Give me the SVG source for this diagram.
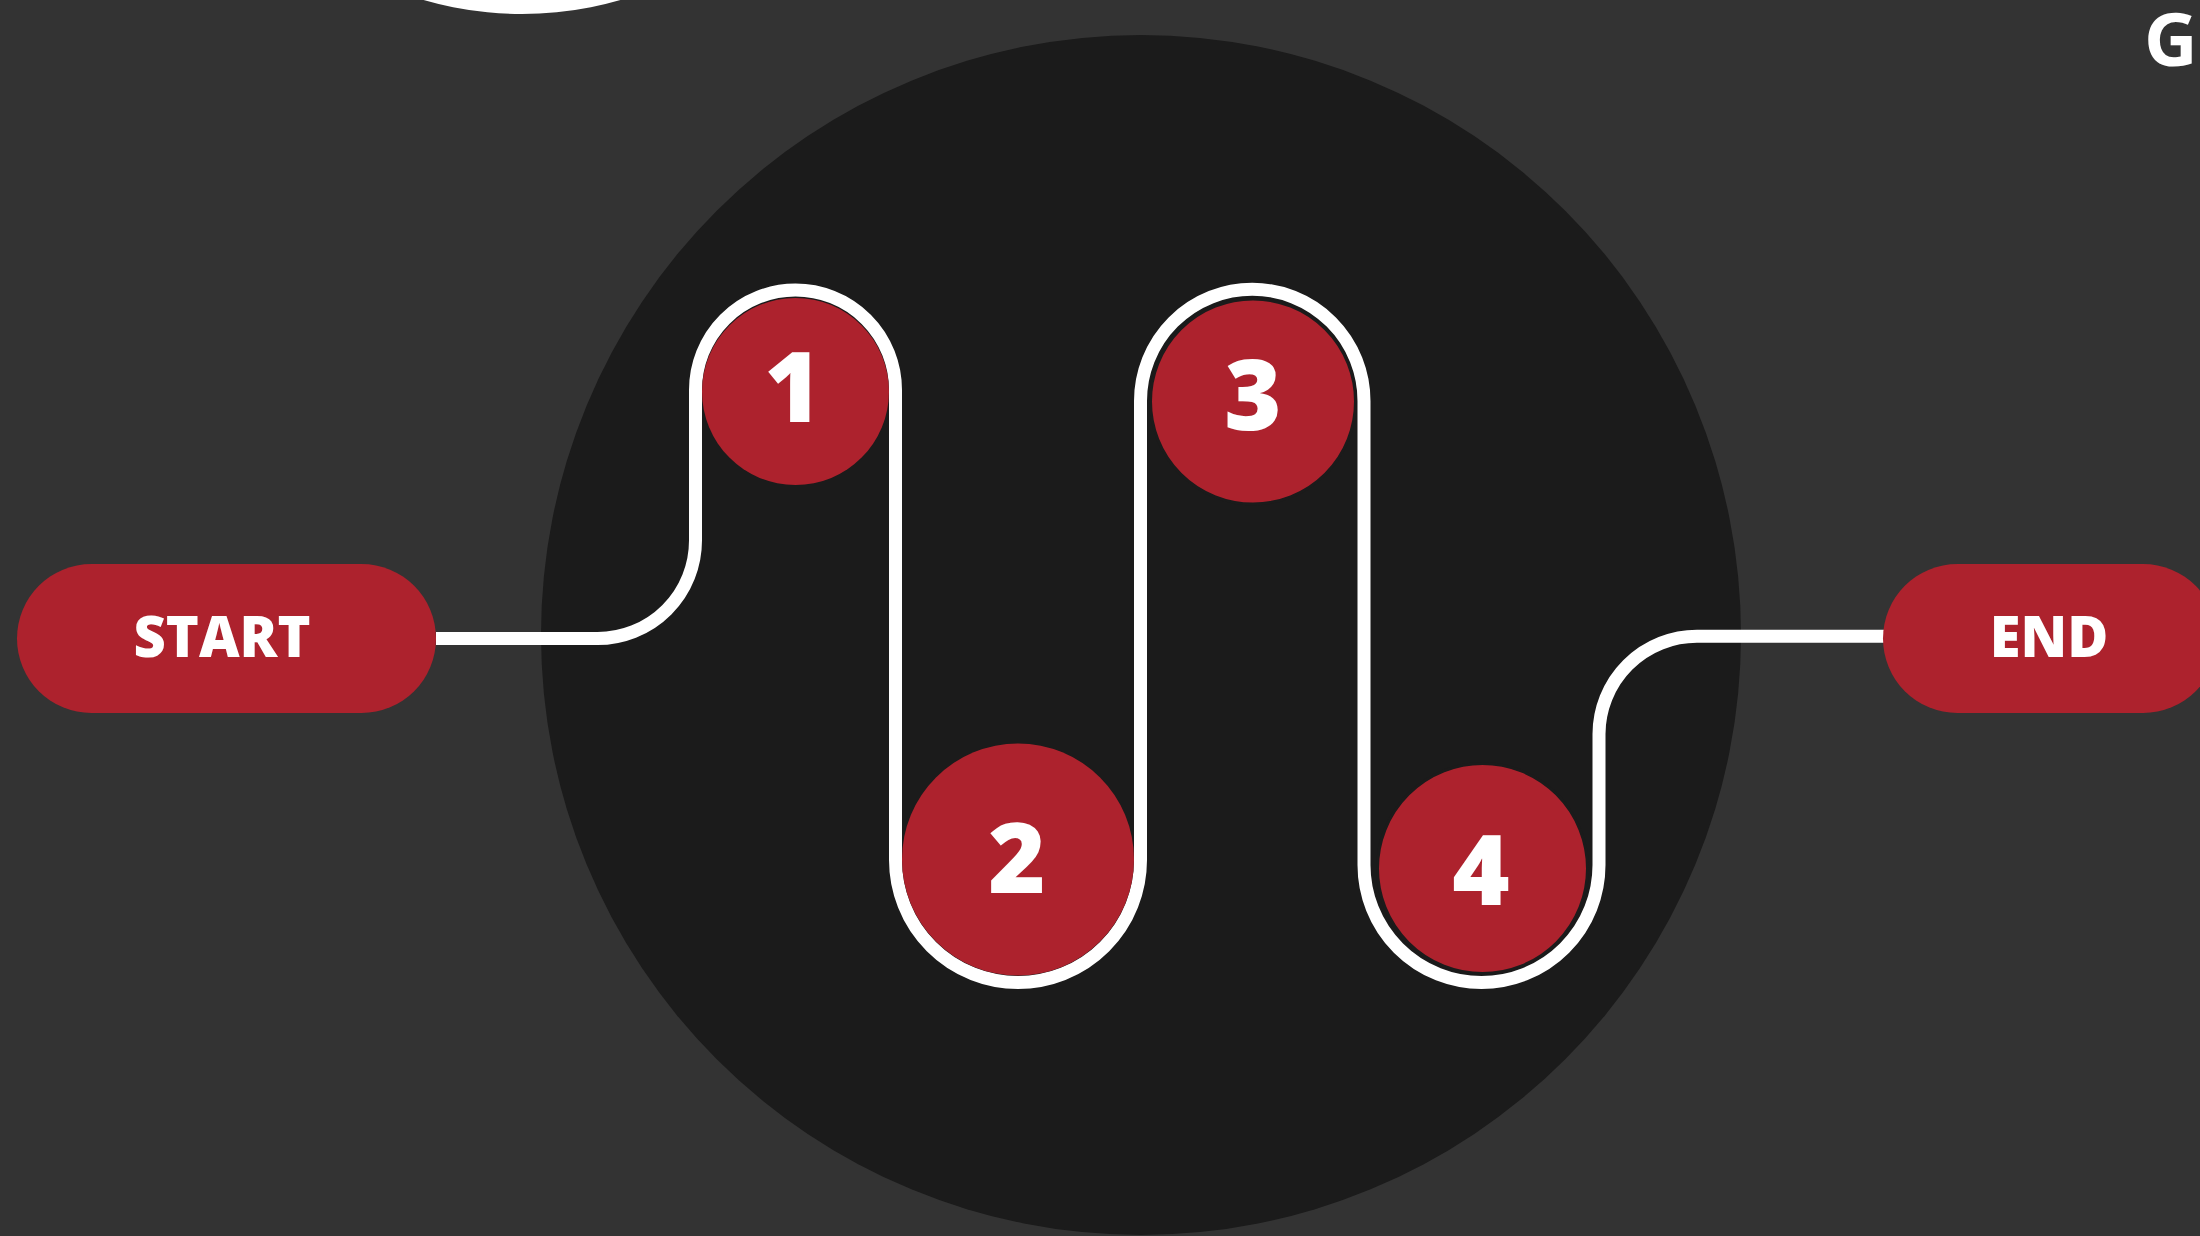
<svg xmlns="http://www.w3.org/2000/svg" width="2200" height="1236" viewBox="0 0 2200 1236">
<style>
.pill{fill:#ad222d}
.step{fill:#ad222d}
.lbl{font-family:"Open Sans","Liberation Sans",sans-serif;font-weight:800;fill:#ffffff;text-anchor:middle}
.pl{font-size:56px}
.num{font-size:98px}
.conn{fill:none;stroke:#ffffff;stroke-width:13}
</style>
<rect x="0" y="0" width="2200" height="1236" fill="#333333"/>
<circle cx="522" cy="-339" r="353" fill="#ffffff"/>
<circle cx="1141" cy="635" r="600" fill="#1b1b1b"/>
<text x="2144" y="66" font-family="'Open Sans','Liberation Sans',sans-serif" font-weight="700" font-size="74" fill="#ffffff">G</text>
<g id="connectors">
<path class="conn" d="M 436 638.5 H 597.5 A 98 98 0 0 0 695.5 540.5 V 390 A 100 100 0 0 1 895.5 390 V 860 A 122.5 122.5 0 0 0 1140.5 860 V 401 A 111.75 111.75 0 0 1 1364 401 V 865 A 117.5 117.5 0 0 0 1599 865 V 734 A 98 98 0 0 1 1697 636.3 H 1890"/>
</g>
<g id="start">
<rect class="pill" x="17" y="564" width="419" height="149" rx="74.5"/>
<text class="lbl pl" x="222" y="657">START</text>
</g>
<g id="step1">
<circle class="step" cx="795.5" cy="391.5" r="93.5"/>
<text class="lbl num" x="793" y="422">1</text>
</g>
<g id="step2">
<circle class="step" cx="1018" cy="859.5" r="116"/>
<text class="lbl num" x="1017" y="893">2</text>
</g>
<g id="step3">
<circle class="step" cx="1253" cy="401.5" r="102.5" stroke="#1b1b1b" stroke-width="3"/>
<text class="lbl num" x="1253" y="430">3</text>
</g>
<g id="step4">
<circle class="step" cx="1482.5" cy="868.5" r="105" stroke="#1b1b1b" stroke-width="3"/>
<text class="lbl num" x="1481" y="905">4</text>
</g>
<g id="end">
<rect class="pill" x="1883" y="564" width="334.5" height="149" rx="74.5"/>
<text class="lbl pl" x="2049" y="657">END</text>
</g>
</svg>
